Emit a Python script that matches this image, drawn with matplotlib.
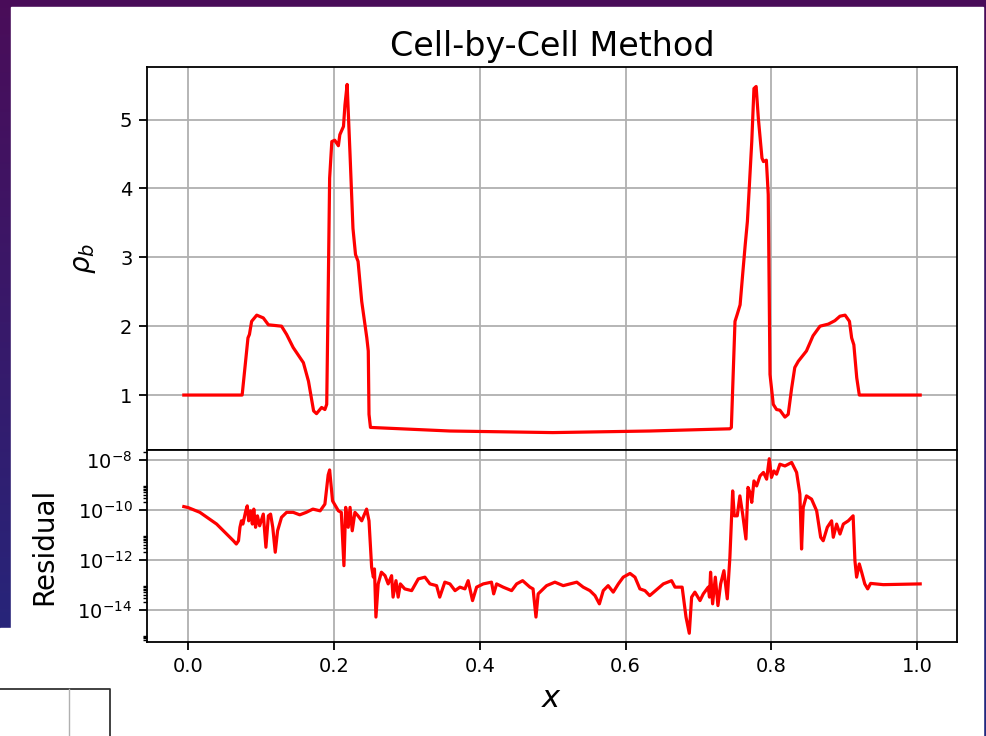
import numpy as np
import matplotlib
matplotlib.use("Agg")
import matplotlib.pyplot as plt
from matplotlib.patches import Rectangle
from matplotlib.lines import Line2D
from matplotlib.ticker import FixedLocator, NullFormatter

# density rho_b along x
rho_x = [-0.006, 0.074, 0.082, 0.084, 0.087, 0.094, 0.103, 0.110, 0.128, 0.135,
         0.144, 0.158, 0.165, 0.172, 0.176, 0.183, 0.1875, 0.190, 0.192, 0.194,
         0.197, 0.201, 0.206, 0.208, 0.213, 0.215, 0.218, 0.222, 0.226, 0.2295,
         0.233, 0.238, 0.245, 0.247, 0.248, 0.250, 0.359, 0.500, 0.633, 0.743,
         0.745, 0.750, 0.753, 0.757, 0.7605, 0.764, 0.767, 0.7695, 0.773, 0.776,
         0.779, 0.782, 0.787, 0.789, 0.793, 0.7956, 0.798, 0.8025, 0.807, 0.8116,
         0.8185, 0.823, 0.8277, 0.832, 0.8368, 0.848, 0.857, 0.8666, 0.878, 0.887,
         0.894, 0.901, 0.907, 0.910, 0.913, 0.917, 0.9205, 1.004]
rho_b = [1.0, 1.0, 1.83, 1.88, 2.07, 2.16, 2.12, 2.02, 2.0, 1.88,
         1.69, 1.47, 1.2, 0.77, 0.73, 0.82, 0.79, 0.865, 2.46, 4.15,
         4.68, 4.70, 4.62, 4.78, 4.90, 5.21, 5.51, 4.49, 3.42, 3.04,
         2.94, 2.36, 1.83, 1.64, 0.72, 0.53, 0.478, 0.455, 0.478, 0.51,
         0.53, 2.07, 2.17, 2.31, 2.75, 3.18, 3.52, 4.0, 4.68, 5.45,
         5.48, 5.02, 4.44, 4.39, 4.41, 3.91, 1.3, 0.865, 0.79, 0.78,
         0.68, 0.72, 1.1, 1.4, 1.49, 1.64, 1.86, 2.0, 2.03, 2.08,
         2.145, 2.16, 2.07, 1.83, 1.73, 1.25, 1.0, 1.0]

# residual, stored as log10 values
res_x = [-0.006, 0.0, 0.016, 0.039, 0.062, 0.066, 0.069, 0.071, 0.073, 0.075,
         0.079, 0.081, 0.083, 0.0856, 0.088, 0.090, 0.0924, 0.095, 0.098, 0.103,
         0.1066, 0.110, 0.113, 0.116, 0.1194, 0.1226, 0.128, 0.135, 0.144, 0.153,
         0.162, 0.171, 0.181, 0.1875, 0.192, 0.194, 0.198, 0.206, 0.210, 0.2136,
         0.216, 0.2195, 0.222, 0.225, 0.2287, 0.233, 0.238, 0.2447, 0.248, 0.2516,
         0.254, 0.2555, 0.2575, 0.2606, 0.265, 0.270, 0.2743, 0.279, 0.281, 0.285,
         0.288, 0.291, 0.297, 0.3065, 0.3156, 0.3247, 0.3316, 0.3407, 0.345, 0.352,
         0.359, 0.366, 0.3727, 0.3796, 0.384, 0.390, 0.3956, 0.4047, 0.416, 0.419,
         0.423, 0.432, 0.4436, 0.4505, 0.4587, 0.4687, 0.473, 0.477, 0.480, 0.4916,
         0.503, 0.5144, 0.5236, 0.533, 0.5418, 0.551, 0.558, 0.564, 0.5693, 0.576,
         0.583, 0.590, 0.5967, 0.606, 0.6128, 0.6196, 0.6265, 0.633, 0.6425, 0.6517,
         0.663, 0.6677, 0.6775, 0.6828, 0.6873, 0.6905, 0.695, 0.702, 0.7065, 0.7133,
         0.715, 0.7165, 0.7193, 0.723, 0.7266, 0.7303, 0.7348, 0.7394, 0.743, 0.7468,
         0.749, 0.7531, 0.7567, 0.7605, 0.765, 0.7678, 0.7705, 0.773, 0.776, 0.7797,
         0.7843, 0.789, 0.7934, 0.797, 0.800, 0.8034, 0.807, 0.8116, 0.8185, 0.8277,
         0.8345, 0.839, 0.8413, 0.8436, 0.848, 0.855, 0.862, 0.8675, 0.871, 0.8766,
         0.8825, 0.8848, 0.8894, 0.894, 0.8986, 0.9054, 0.912, 0.9145, 0.9168, 0.9205,
         0.9237, 0.928, 0.932, 0.936, 0.9534, 1.004]
res_log = [-9.87, -9.91, -10.1, -10.57, -11.24, -11.37, -11.24, -10.7, -10.44, -10.57,
           -10.04, -9.84, -10.44, -10.04, -10.57, -9.97, -10.7, -10.24, -10.64, -10.17,
           -11.5, -10.24, -10.17, -10.7, -11.7, -10.84, -10.3, -10.1, -10.1, -10.2,
           -10.1, -9.97, -10.04, -9.77, -8.6, -8.4, -9.64, -10.04, -10.1, -12.24,
           -9.9, -10.7, -9.9, -10.84, -10.1, -10.24, -10.44, -9.97, -10.44, -12.3,
           -12.7, -12.37, -14.3, -12.97, -12.5, -12.64, -12.97, -12.64, -13.5, -12.84,
           -13.5, -12.97, -13.17, -13.24, -12.77, -12.7, -12.97, -13.04, -13.5, -12.9,
           -12.97, -13.24, -13.1, -13.17, -12.84, -13.64, -13.1, -12.97, -12.9, -13.37,
           -12.97, -13.1, -13.24, -12.97, -12.84, -13.1, -13.17, -14.3, -13.37, -13.04,
           -12.9, -13.04, -12.97, -12.9, -13.1, -13.24, -13.44, -13.77, -13.24, -13.04,
           -13.3, -12.97, -12.7, -12.55, -12.7, -13.17, -13.24, -13.44, -13.2, -12.97,
           -12.84, -13.1, -13.1, -14.3, -14.95, -13.5, -13.3, -13.64, -13.37, -13.1,
           -13.5, -12.5, -13.77, -12.7, -13.84, -12.97, -12.44, -13.57, -11.9, -9.24,
           -10.24, -10.24, -9.44, -10.17, -11.17, -9.1, -9.3, -9.7, -8.84, -9.04,
           -8.64, -8.5, -8.77, -7.95, -8.7, -8.44, -8.57, -8.17, -8.24, -8.1,
           -8.5, -9.37, -11.57, -9.9, -9.44, -9.57, -10.04, -11.1, -11.24, -10.7,
           -10.44, -11.1, -10.57, -10.97, -10.57, -10.44, -10.24, -12.04, -12.7, -12.17,
           -12.5, -12.97, -13.17, -12.95, -13.0, -12.97]
residual = 10.0 ** np.array(res_log)

W, H = 987, 736
fig = plt.figure(figsize=(W / 100, H / 100), dpi=100)

# slide background (purple gradient) and white picture panel
bg = fig.add_axes([0, 0, 1, 1], zorder=-10)
grad = np.linspace(0, 1, 256)[:, None, None]
top_c = np.array([0.29, 0.05, 0.35])
bot_c = np.array([0.13, 0.16, 0.50])
bg.imshow(top_c * (1 - grad) + bot_c * grad, aspect="auto", extent=[0, 1, 0, 1])
bg.set_xlim(0, 1)
bg.set_ylim(0, 1)
bg.axis("off")
bg.add_patch(Rectangle((11 / W, 0), (983 - 11) / W, 1 - 7 / H, color="white"))
bg.add_patch(Rectangle((0, 0), 12 / W, 1 - 628 / H, color="white"))
# edge of another picture peeking in at the bottom left
bg.add_line(Line2D([0, 110 / W, 110 / W], [1 - 689 / H, 1 - 689 / H, 0], color="#333333", lw=1.3))
bg.add_line(Line2D([69 / W, 69 / W], [1 - 689 / H, 0], color="#b0b0b0", lw=1.0))

left, right = 147 / W, 957 / W
top, bottom = 1 - 67 / H, 1 - 642 / H
hb = (642 - 450) / H
ax1 = fig.add_axes([left, bottom + hb, right - left, top - bottom - hb])
ax2 = fig.add_axes([left, bottom, right - left, hb], sharex=ax1)

for ax in (ax1, ax2):
    ax.grid(True, color="#b0b0b0", lw=1.3)
    ax.tick_params(labelsize=14, width=1.3, length=5.5, pad=5)
    ax.tick_params(which="minor", width=1.0, length=3)
    for s in ax.spines.values():
        s.set_linewidth(1.3)

ax1.plot(rho_x, rho_b, color="red", lw=2.3)
ax1.set_title("Cell-by-Cell Method", fontsize=24, pad=8)
ax1.set_ylabel(r"$\rho_b$", fontsize=20)
ax1.yaxis.set_label_coords(-0.06, 0.5)
ax1.set_yticks([1, 2, 3, 4, 5])
ax1.tick_params(labelbottom=False)

ax2.semilogy(res_x, residual, color="red", lw=2.3)
ax2.set_ylabel("Residual", fontsize=20)
ax2.yaxis.set_label_coords(-0.11, 0.5)
ax2.set_yticks([1e-8, 1e-10, 1e-12, 1e-14])
ax2.yaxis.set_minor_locator(FixedLocator([s * 10.0 ** e for e in (-16, -14, -12, -10, -8)
                                          for s in range(2, 10)]))
ax2.yaxis.set_minor_formatter(NullFormatter())
ax2.set_xlabel(r"$x$", fontsize=22, labelpad=6)
ax2.set_xticks([0.0, 0.2, 0.4, 0.6, 0.8, 1.0])

fig.savefig("out.png", dpi=100)
